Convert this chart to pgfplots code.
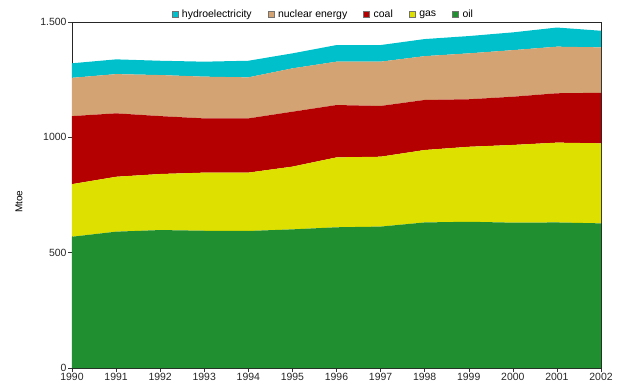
\documentclass[border=0pt]{standalone}
\usepackage{fontspec}
\setmainfont{Liberation Sans}
\setsansfont{Liberation Sans}
\usepackage{pgfplots}
\pgfplotsset{compat=1.18}
\definecolor{hydro}{RGB}{0,192,204}
\definecolor{nuclear}{RGB}{212,163,115}
\definecolor{coal}{RGB}{180,0,0}
\definecolor{gas}{RGB}{222,225,0}
\definecolor{oil}{RGB}{31,143,47}
\begin{document}
\begin{tikzpicture}
\path[use as bounding box] (-72bp,-24bp) rectangle (547bp,368bp);
\begin{axis}[
  width=529bp, height=346bp, scale only axis,
  xmin=1990, xmax=2002, ymin=0, ymax=1500,
  stack plots=y,
  axis line style={draw=black!85, line width=0.6pt},
  xtick={1990,1991,...,2002},
  ytick={0,500,1000,1500},
  yticklabels={0,500,1000,1.500},
  tick align=outside,
  xtick pos=bottom, ytick pos=left,
  major tick length=4bp,
  tick style={black!80, line width=0.5pt},
  /pgf/number format/1000 sep={},
  /pgf/number format/assume math mode=true,
  ticklabel style={font=\fontsize{10.5}{12}\selectfont, text=black!85},
  xticklabel style={yshift=2bp},
  yticklabel style={xshift=2bp},
  ylabel={Mtoe},
  every axis y label/.style={at={(axis description cs:-0.1002,0.48)}, rotate=90, anchor=center, font=\fontsize{10}{12}\selectfont},
  legend style={at={(0.475,1)}, anchor=south, yshift=0bp, draw=none, fill=none,
    legend columns=-1, font=\fontsize{10.5}{12}\selectfont, inner sep=1bp,
    /tikz/every odd column/.append style={column sep=2bp},
    /tikz/every even column/.append style={column sep=14bp}},
  legend cell align=left,
  reverse legend,
  legend image code/.code={\draw[#1, draw=black!55, line width=0.4pt] (0bp,-3bp) rectangle (6bp,3bp);},
]
\addplot[fill=oil, draw=none] coordinates {
(1990,569) (1991,591) (1992,598) (1993,595) (1994,594) (1995,601) (1996,610)
(1997,613) (1998,631) (1999,634) (2000,630) (2001,631) (2002,627)} \closedcycle;
\addlegendentry{oil}
\addplot[fill=gas, draw=none] coordinates {
(1990,228) (1991,238) (1992,243) (1993,252) (1994,253) (1995,272) (1996,303)
(1997,303) (1998,314) (1999,325) (2000,337) (2001,346) (2002,347)} \closedcycle;
\addlegendentry{gas}
\addplot[fill=coal, draw=none] coordinates {
(1990,295) (1991,275) (1992,251) (1993,235) (1994,235) (1995,238) (1996,227)
(1997,220) (1998,217) (1999,206) (2000,209) (2001,214) (2002,219)} \closedcycle;
\addlegendentry{coal}
\addplot[fill=nuclear, draw=none] coordinates {
(1990,166) (1991,170) (1992,178) (1993,181) (1994,178) (1995,188) (1996,188)
(1997,192) (1998,190) (1999,199) (2000,202) (2001,202) (2002,197)} \closedcycle;
\addlegendentry{nuclear energy}
\addplot[fill=hydro, draw=none] coordinates {
(1990,63) (1991,64) (1992,62) (1993,65) (1994,72) (1995,65) (1996,72)
(1997,72) (1998,74) (1999,75) (2000,77) (2001,83) (2002,72)} \closedcycle;
\addlegendentry{hydroelectricity}
\end{axis}
\end{tikzpicture}
\end{document}
